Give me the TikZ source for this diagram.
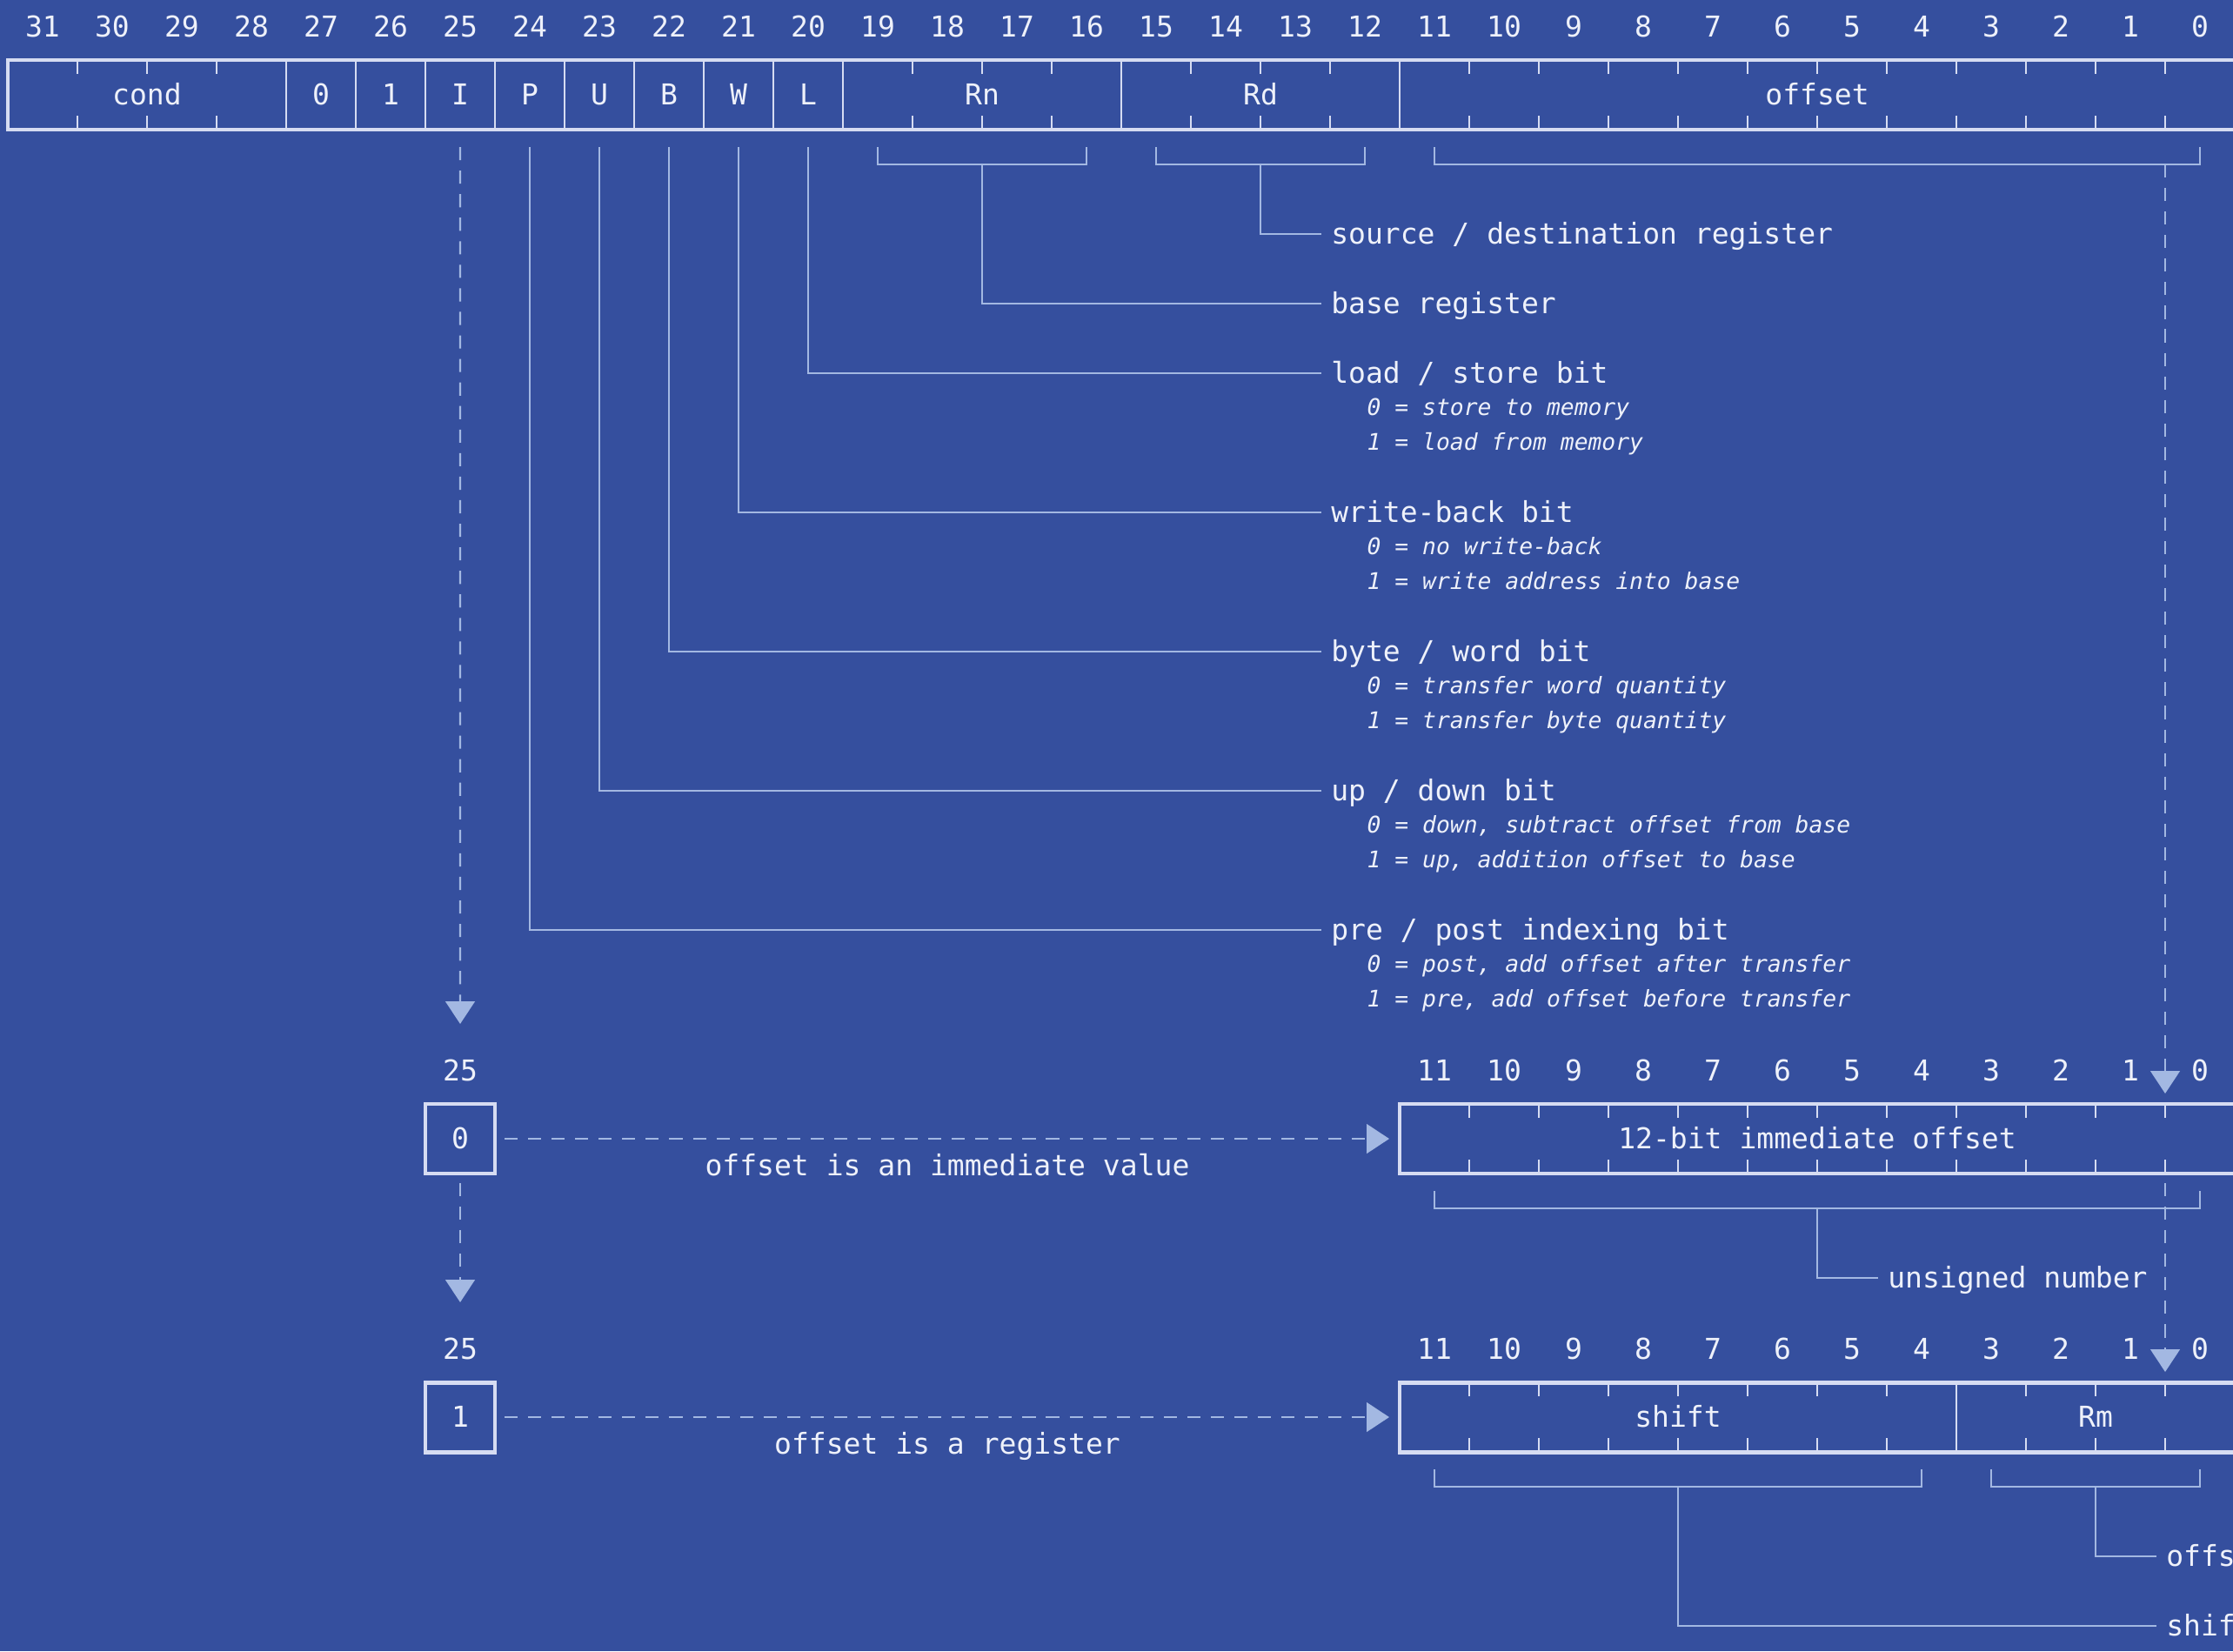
\documentclass[tikz,border=0pt]{standalone}
\usepackage{fontspec}
\setmonofont{DejaVu Sans Mono}
\usepackage{tikz}
\usetikzlibrary{arrows.meta,positioning,calc}
\definecolor{bg}{HTML}{354F9E}
\definecolor{rimc}{HTML}{D6DCF2}
\definecolor{ink}{HTML}{EEF1FA}
\definecolor{wire}{HTML}{A3B8E2}
\newcommand{\lblfont}{\ttfamily\fontsize{9.4}{11}\selectfont}
\newcommand{\descfont}{\ttfamily\itshape\fontsize{7.5}{9}\selectfont}

\begin{document}
\begin{tikzpicture}[x=8mm,y=-8mm,>={Triangle[length=7.4pt,width=9.6pt]},
 fld/.style={draw=rimc,line width=.8pt,minimum height=8mm,inner sep=0pt,outer sep=0pt,text=ink,font=\lblfont,text height=6.8pt,text depth=0pt},
 rim/.style={draw=rimc,line width=1.4pt},
 tk/.style={draw=rimc,line width=.8pt},
 num/.style={text=ink,font=\lblfont,inner sep=0pt,text height=6.8pt,text depth=0pt},
 lbl/.style={num,anchor=west,inner xsep=3pt},
 desc/.style={text=ink,font=\descfont,anchor=west,inner sep=0pt,text height=5.5pt,text depth=0pt},
 brk/.style={draw=wire,line width=.7pt},
 conn/.style={draw=wire,line width=.7pt},
 darr/.style={conn,->,dash pattern=on 4.3pt off 3.4pt}]
\useasboundingbox (-0.1125,-0.8625) rectangle (31.975,22.8625);
\clip (-0.1125,-0.8625) rectangle (31.975,22.8625);
\fill[bg] (-0.1125,-0.8625) rectangle (31.975,22.8625);

% instruction word
\node[fld,minimum width=32mm] (cond) at (2,0.5) {cond};
\node[fld,minimum width=8mm,right=0pt of cond] (f27) {0};
\node[fld,minimum width=8mm,right=0pt of f27] (f26) {1};
\node[fld,minimum width=8mm,right=0pt of f26] (fI) {I};
\node[fld,minimum width=8mm,right=0pt of fI] (fP) {P};
\node[fld,minimum width=8mm,right=0pt of fP] (fU) {U};
\node[fld,minimum width=8mm,right=0pt of fU] (fB) {B};
\node[fld,minimum width=8mm,right=0pt of fB] (fW) {W};
\node[fld,minimum width=8mm,right=0pt of fW] (fL) {L};
\node[fld,minimum width=32mm,right=0pt of fL] (fRn) {Rn};
\node[fld,minimum width=32mm,right=0pt of fRn] (fRd) {Rd};
\node[fld,minimum width=96mm,right=0pt of fRd] (fOff) {offset};
\draw[rim] (cond.north west) rectangle (fOff.south east);
\foreach \x in {1,2,3,13,14,15,17,18,19,21,22,...,31}
 {\draw[tk] (\x,0) -- (\x,0.2); \draw[tk] (\x,1) -- (\x,0.8);}
\foreach \b in {0,...,31} \node[num] (t\b) at (31.5-\b,-0.48) {\b};

\draw[brk] (12.5,1.25) |- (15.5,1.5) -- (15.5,1.25);
\draw[brk] (16.5,1.25) |- (19.5,1.5) -- (19.5,1.25);
\draw[brk] (20.5,1.25) |- (31.5,1.5) -- (31.5,1.25);
\coordinate (cRn) at (14,1.5); \coordinate (cRd) at (18,1.5); \coordinate (cOff) at (31,1.5);

% field meanings
\node[lbl] (lRd) at (18.875,2.5) {source / destination register};
\node[lbl] (lRn) at (18.875,3.5) {base register};
\node[lbl] (lL) at (18.875,4.5) {load / store bit};
\node[desc] (lL0) at (19.525,4.99) {0 = store to memory};
\node[desc] (lL1) at (19.525,5.48) {1 = load from memory};
\node[lbl] (lW) at (18.875,6.5) {write-back bit};
\node[desc] (lW0) at (19.525,6.99) {0 = no write-back};
\node[desc] (lW1) at (19.525,7.48) {1 = write address into base};
\node[lbl] (lB) at (18.875,8.5) {byte / word bit};
\node[desc] (lB0) at (19.525,8.99) {0 = transfer word quantity};
\node[desc] (lB1) at (19.525,9.48) {1 = transfer byte quantity};
\node[lbl] (lU) at (18.875,10.5) {up / down bit};
\node[desc] (lU0) at (19.525,10.99) {0 = down, subtract offset from base};
\node[desc] (lU1) at (19.525,11.48) {1 = up, addition offset to base};
\node[lbl] (lP) at (18.875,12.5) {pre / post indexing bit};
\node[desc] (lP0) at (19.525,12.99) {0 = post, add offset after transfer};
\node[desc] (lP1) at (19.525,13.48) {1 = pre, add offset before transfer};

\draw[conn] (cRd) |- (lRd.west);
\draw[conn] (cRn) |- (lRn.west);
\draw[conn,shorten <=2mm] (fL.south) |- (lL.west);
\draw[conn,shorten <=2mm] (fW.south) |- (lW.west);
\draw[conn,shorten <=2mm] (fB.south) |- (lB.west);
\draw[conn,shorten <=2mm] (fU.south) |- (lU.west);
\draw[conn,shorten <=2mm] (fP.south) |- (lP.west);

% I = 0
\node[fld,rim,minimum width=8mm] (v0) at (6.5,15.5) {0};
\node[num] (p0) at (6.5,14.52) {25};
\node[fld,rim,minimum width=96mm] (imm) at (26,15.5) {12-bit immediate offset};
\foreach \x in {21,...,31}
 {\draw[tk] (\x,15) -- (\x,15.2); \draw[tk] (\x,16) -- (\x,15.8);}
\foreach \b in {0,...,11} \node[num] (m\b) at (31.5-\b,14.52) {\b};
\draw[brk] (20.5,16.25) |- (31.5,16.5) -- (31.5,16.25);
\coordinate (cImm) at (26,16.5);
\node[lbl] (lImm) at (26.875,17.5) {unsigned number};
\draw[conn] (cImm) |- (lImm.west);

% I = 1
\node[fld,rim,minimum width=8mm] (v1) at (6.5,19.5) {1};
\node[num] (p1) at (6.5,18.52) {25};
\node[fld,minimum width=64mm] (fSh) at (24,19.5) {shift};
\node[fld,minimum width=32mm,right=0pt of fSh] (fRm) {Rm};
\draw[rim] (fSh.north west) rectangle (fRm.south east);
\foreach \x in {21,...,27,29,30,31}
 {\draw[tk] (\x,19) -- (\x,19.2); \draw[tk] (\x,20) -- (\x,19.8);}
\foreach \b in {0,...,11} \node[num] (s\b) at (31.5-\b,18.52) {\b};
\draw[brk] (20.5,20.25) |- (27.5,20.5) -- (27.5,20.25);
\draw[brk] (28.5,20.25) |- (31.5,20.5) -- (31.5,20.25);
\coordinate (cSh) at (24,20.5); \coordinate (cRm) at (30,20.5);
\node[lbl] (lRm) at (30.875,21.5) {offset};
\node[lbl] (lSh) at (30.875,22.5) {shift};
\draw[conn] (cRm) |- (lRm.west);
\draw[conn] (cSh) |- (lSh.west);

\draw[darr,shorten <=2mm,shorten >=9.2mm] (fI.south) -- (v0.north);
\draw[darr,shorten <=1.1mm,shorten >=9.2mm] (v0.south) -- (v1.north);
\draw[darr,shorten <=1.1mm,shorten >=1.2mm] (v0.east) -- node[num,below=1.7mm] (tImm) {offset is an immediate value} (imm.west);
\draw[darr,shorten <=1.1mm,shorten >=1.2mm] (v1.east) -- node[num,below=1.7mm] (tReg) {offset is a register} (fSh.west);
\draw[darr,shorten >=1.2mm] (cOff) -- (cOff |- imm.north);
\draw[darr,shorten <=1.1mm,shorten >=1.2mm] (cOff |- imm.south) -- (cOff |- fRm.north);
\end{tikzpicture}
\end{document}
